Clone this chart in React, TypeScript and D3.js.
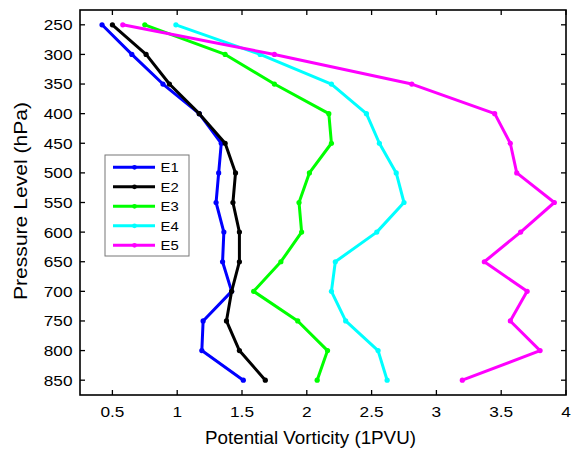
import React from "react";
import * as d3 from "d3";

const levels = [250, 300, 350, 400, 450, 500, 550, 600, 650, 700, 750, 800, 850];
const seriesNames = ["E1", "E2", "E3", "E4", "E5"];
const seriesColors = ["#0000ff", "#000000", "#00ff00", "#00ffff", "#ff00ff"];
const e1 = [0.42, 0.65, 0.89, 1.17, 1.34, 1.32, 1.3, 1.36, 1.35, 1.42, 1.2, 1.19, 1.51];
const e2 = [0.5, 0.76, 0.94, 1.17, 1.37, 1.45, 1.43, 1.48, 1.48, 1.42, 1.38, 1.48, 1.68];
const e3 = [0.75, 1.37, 1.75, 2.17, 2.19, 2.02, 1.94, 1.96, 1.8, 1.59, 1.93, 2.16, 2.08];
const e4 = [0.99, 1.64, 2.19, 2.46, 2.56, 2.69, 2.75, 2.54, 2.22, 2.19, 2.3, 2.55, 2.62];
const e5 = [0.58, 1.75, 2.81, 3.45, 3.57, 3.62, 3.91, 3.65, 3.37, 3.7, 3.57, 3.8, 3.2];
const seriesValues = [e1, e2, e3, e4, e5];
const xTicks = [0.5, 1, 1.5, 2, 2.5, 3, 3.5, 4];
const yTicks = levels;
const xLabel = "Potential Vorticity (1PVU)";
const yLabel = "Pressure Level (hPa)";

export default function App() {
  const W = 577, H = 451;
  const left = 80, right = 566, top = 10, bottom = 395;
  const x = d3.scaleLinear().domain([0.25, 4]).range([left, right]);
  const y = d3.scaleLinear().domain([225, 875]).range([top, bottom]);
  const line = d3
    .line<[number, number]>()
    .x((d) => x(d[0]))
    .y((d) => y(d[1]));
  const font = "Liberation Sans, Arial, sans-serif";
  const tl = 5;
  const sx = 1.15;
  return (
    <svg width={W} height={H} style={{ position: "absolute", left: 0, top: 0, background: "#fff" }}>
      <rect x={0} y={0} width={W} height={H} fill="#fff" />
      {seriesValues.map((vals, i) => {
        const pts = vals.map((v, j) => [v, levels[j]] as [number, number]);
        return (
          <g key={i}>
            <path d={line(pts) || ""} fill="none" stroke={seriesColors[i]} strokeWidth={3} strokeLinejoin="round" />
            {pts.map((p, j) => (
              <circle key={j} cx={x(p[0])} cy={y(p[1])} r={2.6} fill={seriesColors[i]} />
            ))}
          </g>
        );
      })}
      <rect x={left} y={top} width={right - left} height={bottom - top} fill="none" stroke="#000" strokeWidth={1.6} />
      {xTicks.map((t) => (
        <g key={"x" + t}>
          <line x1={x(t)} x2={x(t)} y1={bottom} y2={bottom - tl} stroke="#000" strokeWidth={1.3} />
          <line x1={x(t)} x2={x(t)} y1={top} y2={top + tl} stroke="#000" strokeWidth={1.3} />
          <text
            transform={`translate(${x(t)}, 416.5) scale(${sx}, 1)`}
            textAnchor="middle"
            fontFamily={font}
            fontSize={15}
            fill="#000"
          >
            {String(t)}
          </text>
        </g>
      ))}
      {yTicks.map((t) => (
        <g key={"y" + t}>
          <line x1={left} x2={left + tl} y1={y(t)} y2={y(t)} stroke="#000" strokeWidth={1.3} />
          <line x1={right} x2={right - tl} y1={y(t)} y2={y(t)} stroke="#000" strokeWidth={1.3} />
          <text
            transform={`translate(72.5, ${y(t)}) scale(${sx}, 1)`}
            dy="0.36em"
            textAnchor="end"
            fontFamily={font}
            fontSize={15}
            fill="#000"
          >
            {String(t)}
          </text>
        </g>
      ))}
      <text
        x={310.5}
        y={444}
        textAnchor="middle"
        fontFamily={font}
        fontSize={18.5}
        textLength={211}
        lengthAdjust="spacingAndGlyphs"
        fill="#000"
      >
        {xLabel}
      </text>
      <text
        transform={`translate(27, 201) rotate(-90)`}
        textAnchor="middle"
        fontFamily={font}
        fontSize={18.5}
        textLength={198}
        lengthAdjust="spacingAndGlyphs"
        fill="#000"
      >
        {yLabel}
      </text>
      <g>
        <rect x={105} y={155} width={84} height={101} fill="#fff" stroke="#777" strokeWidth={1} />
        {seriesNames.map((n, i) => {
          const ly = 167.3 + i * 19.5;
          return (
            <g key={n}>
              <line x1={113} x2={155} y1={ly} y2={ly} stroke={seriesColors[i]} strokeWidth={3} />
              <circle cx={134.5} cy={ly} r={2.4} fill={seriesColors[i]} />
              <text
                transform={`translate(160.5, ${ly}) scale(1.1, 1)`}
                dy="0.36em"
                fontFamily={font}
                fontSize={13.5}
                fill="#000"
              >
                {n}
              </text>
            </g>
          );
        })}
      </g>
    </svg>
  );
}
